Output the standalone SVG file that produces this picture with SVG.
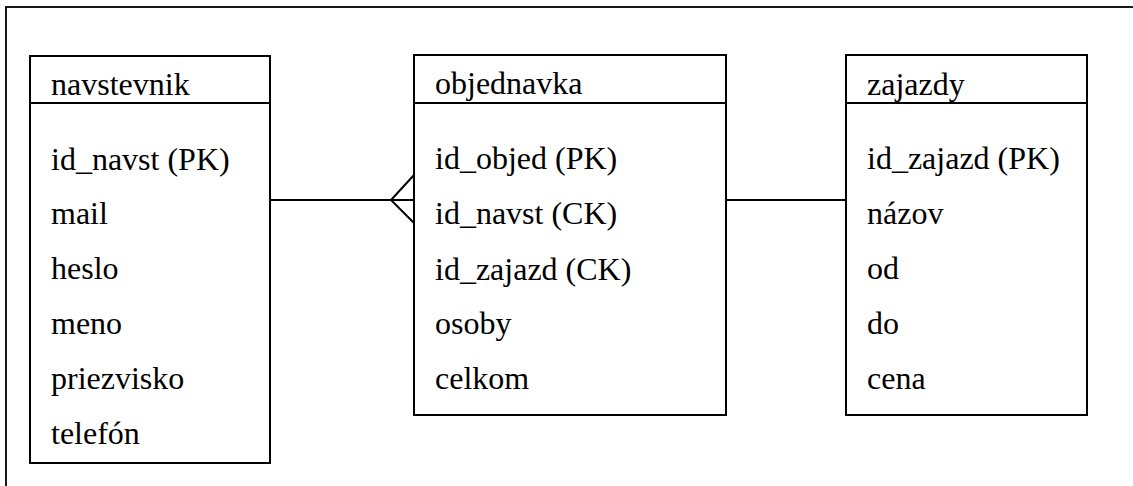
<svg xmlns="http://www.w3.org/2000/svg" width="1133" height="486" viewBox="0 0 1133 486">
<style>
.box{fill:#fff;stroke:#000;stroke-width:2}
.ln{stroke:#000;stroke-width:2;fill:none}
.t{font-family:"Liberation Serif","Times New Roman",serif;font-size:32px;fill:#000}
</style>
<rect width="1133" height="486" fill="#fff"/>
<rect x="6" y="7" width="1140" height="500" fill="none" stroke="#000" stroke-width="1.8"/>
<g id="connectors">
<line class="ln" x1="270" y1="200" x2="414" y2="200"/>
<polyline class="ln" points="414,175 391,200 414,223"/>
<line class="ln" x1="726" y1="200" x2="846" y2="200"/>
</g>
<g id="navstevnik">
<rect class="box" x="30" y="56" width="240" height="407"/>
<line class="ln" x1="30" y1="103" x2="270" y2="103"/>
<text class="t" x="51" y="95">navstevnik</text>
<text class="t" x="51" y="170">id_navst (PK)</text>
<text class="t" x="51" y="224">mail</text>
<text class="t" x="51" y="279">heslo</text>
<text class="t" x="51" y="334">meno</text>
<text class="t" x="51" y="389">priezvisko</text>
<text class="t" x="51" y="444">telefón</text>
</g>
<g id="objednavka">
<rect class="box" x="414" y="55" width="312" height="360"/>
<line class="ln" x1="414" y1="103" x2="726" y2="103"/>
<text class="t" x="435" y="94">objednavka</text>
<text class="t" x="435" y="169">id_objed (PK)</text>
<text class="t" x="435" y="224">id_navst (CK)</text>
<text class="t" x="435" y="280">id_zajazd (CK)</text>
<text class="t" x="435" y="334">osoby</text>
<text class="t" x="435" y="389">celkom</text>
</g>
<g id="zajazdy">
<rect class="box" x="846" y="55" width="241" height="360"/>
<line class="ln" x1="846" y1="103" x2="1087" y2="103"/>
<text class="t" x="867" y="95">zajazdy</text>
<text class="t" x="867" y="169">id_zajazd (PK)</text>
<text class="t" x="867" y="224">názov</text>
<text class="t" x="867" y="279">od</text>
<text class="t" x="867" y="334">do</text>
<text class="t" x="867" y="389">cena</text>
</g>
</svg>
